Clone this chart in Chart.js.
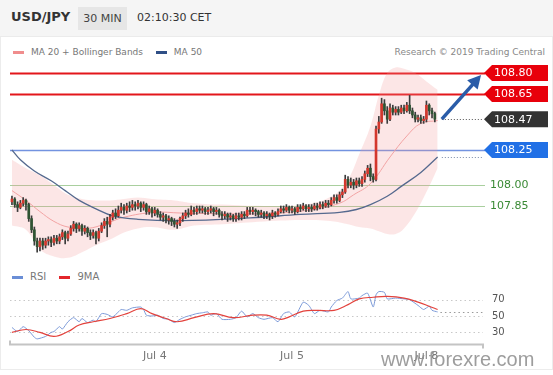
<!DOCTYPE html>
<html lang="en">
<head>
    <meta charset="UTF-8">
    <title>USD/JPY 30 MIN</title>
    <script src="https://cdn.jsdelivr.net/npm/chart.js"></script>
</head>
<style>
    body {
        margin: 0;
        width: 553px;
        height: 375px;
        position: relative;
        overflow: hidden;
        background: #fff;
        font-family: "DejaVu Sans", sans-serif;
    }
    .header {
        position: absolute; left: 0; top: 0;
        width: 553px; height: 36px;
        background: #f5f5f5;
        border-bottom: 1px solid #ebebeb;
    }
    .pair { position: absolute; left: 11px; top: 9px; font-size: 13px; font-weight: bold; color: #333; }
    .tf {
        position: absolute; left: 78px; top: 7px;
        width: 49px; height: 23px; line-height: 23px;
        background: #e6e6e6; color: #444;
        font-size: 11px; text-align: center;
    }
    .clock { position: absolute; left: 137px; top: 11px; font-size: 11px; color: #333; }
    .panel {
        position: absolute; left: 0; top: 37px;
        width: 551px; height: 332px;
        border: 1px solid #ececec; border-top: none;
    }
    .legend { position: absolute; font-size: 9px; color: #777; white-space: nowrap; }
    .sw { display: inline-block; width: 11px; height: 3px; vertical-align: middle; margin-right: 7px; }
    .credit { position: absolute; right: 8px; top: 47px; font-size: 9px; color: #888; }
    .watermark {
        position: absolute; left: 381px; top: 348px;
        font-family: "Liberation Sans", sans-serif;
        font-size: 20px; color: rgba(140, 140, 140, 0.85);
    }
    canvas { position: absolute; left: 0; }
</style>
<body>
    <div class="header">
        <span class="pair">USD/JPY</span>
        <span class="tf">30 MIN</span>
        <span class="clock">02:10:30 CET</span>
    </div>
    <div class="panel"></div>

    <div class="legend" style="left: 13px; top: 47px;">
        <span class="sw" style="background: #f08d8d;"></span>MA 20 + Bollinger Bands
        <span class="sw" style="background: #2f4f86; margin-left: 10px;"></span>MA 50
    </div>
    <div class="credit">Research © 2019 Trading Central</div>

    <canvas id="price" width="553" height="225" style="top: 40px;"></canvas>

    <div class="legend" style="left: 12px; top: 271px; font-size: 10px;">
        <span class="sw" style="background: #6a8ed6;"></span>RSI
        <span class="sw" style="background: #e3262b; margin-left: 10px;"></span>9MA
    </div>

    <canvas id="rsi" width="553" height="113" style="top: 262px;"></canvas>

    <div class="watermark">www.forexre.com</div>

    <script>
        // 30 min candles, index 0 = Jul 3 late evening, last = Jul 8 02:00
        const openP = [
            107.88, 107.90, 107.86, 107.84, 107.87, 107.89, 107.86, 107.76, 107.68, 107.60,
            107.56, 107.60, 107.57, 107.60, 107.61, 107.59, 107.62, 107.60, 107.63, 107.66,
            107.62, 107.65, 107.69, 107.72, 107.69, 107.71, 107.67, 107.69, 107.66, 107.64,
            107.66, 107.62, 107.67, 107.71, 107.74, 107.72, 107.77, 107.80, 107.78, 107.82,
            107.84, 107.82, 107.85, 107.84, 107.86, 107.85, 107.87, 107.84, 107.86, 107.81,
            107.83, 107.80, 107.82, 107.79, 107.77, 107.78, 107.75, 107.76, 107.74, 107.72,
            107.73, 107.76, 107.78, 107.80, 107.79, 107.82, 107.81, 107.83, 107.82, 107.83,
            107.81, 107.82, 107.83, 107.81, 107.82, 107.79, 107.78, 107.79, 107.77, 107.78,
            107.76, 107.78, 107.77, 107.79, 107.78, 107.82, 107.81, 107.82, 107.81, 107.79,
            107.80, 107.78, 107.79, 107.78, 107.80, 107.79, 107.81, 107.83, 107.82, 107.84,
            107.82, 107.83, 107.81, 107.84, 107.83, 107.85, 107.83, 107.84, 107.83, 107.85,
            107.84, 107.86, 107.85, 107.87, 107.86, 107.89, 107.91, 107.89, 107.93, 107.95,
            108.04, 108.00, 108.02, 108.00, 108.03, 108.01, 108.04, 108.08, 108.12, 108.06,
            108.04, 108.40, 108.45, 108.58, 108.53, 108.47, 108.55, 108.52, 108.54, 108.52,
            108.55, 108.53, 108.57, 108.53, 108.50, 108.47, 108.48, 108.46, 108.47, 108.57,
            108.53, 108.51
        ];
        const highP = [
            107.92, 107.91, 107.88, 107.89, 107.91, 107.90, 107.87, 107.78, 107.70, 107.62,
            107.62, 107.62, 107.62, 107.63, 107.63, 107.64, 107.64, 107.65, 107.68, 107.67,
            107.67, 107.71, 107.74, 107.73, 107.73, 107.72, 107.71, 107.70, 107.68, 107.68,
            107.67, 107.69, 107.73, 107.76, 107.77, 107.79, 107.82, 107.83, 107.85, 107.87,
            107.86, 107.87, 107.88, 107.89, 107.88, 107.89, 107.88, 107.88, 107.87, 107.85,
            107.84, 107.84, 107.83, 107.81, 107.80, 107.79, 107.78, 107.77, 107.76, 107.75,
            107.77, 107.80, 107.82, 107.83, 107.85, 107.84, 107.85, 107.85, 107.85, 107.84,
            107.84, 107.85, 107.84, 107.84, 107.83, 107.81, 107.81, 107.80, 107.80, 107.79,
            107.80, 107.80, 107.81, 107.81, 107.84, 107.84, 107.84, 107.83, 107.82, 107.82,
            107.81, 107.81, 107.80, 107.82, 107.81, 107.83, 107.85, 107.85, 107.86, 107.85,
            107.85, 107.84, 107.86, 107.86, 107.87, 107.86, 107.86, 107.86, 107.87, 107.87,
            107.88, 107.88, 107.89, 107.89, 107.91, 107.93, 107.93, 107.95, 107.97, 108.07,
            108.06, 108.05, 108.04, 108.05, 108.05, 108.06, 108.10, 108.14, 108.15, 108.08,
            108.42, 108.49, 108.62, 108.61, 108.56, 108.58, 108.57, 108.56, 108.56, 108.57,
            108.57, 108.59, 108.64, 108.55, 108.52, 108.50, 108.50, 108.49, 108.60, 108.58,
            108.55, 108.52
        ];
        const lowP = [
            107.86, 107.84, 107.81, 107.83, 107.85, 107.82, 107.74, 107.66, 107.57, 107.52,
            107.53, 107.54, 107.55, 107.57, 107.56, 107.57, 107.58, 107.58, 107.61, 107.58,
            107.60, 107.64, 107.67, 107.66, 107.67, 107.64, 107.65, 107.63, 107.61, 107.62,
            107.58, 107.60, 107.66, 107.69, 107.63, 107.70, 107.75, 107.76, 107.77, 107.80,
            107.79, 107.80, 107.81, 107.82, 107.82, 107.83, 107.81, 107.82, 107.79, 107.79,
            107.77, 107.78, 107.77, 107.75, 107.74, 107.73, 107.72, 107.71, 107.70, 107.69,
            107.71, 107.74, 107.76, 107.77, 107.78, 107.79, 107.79, 107.80, 107.80, 107.79,
            107.79, 107.80, 107.78, 107.79, 107.77, 107.75, 107.76, 107.74, 107.75, 107.74,
            107.74, 107.75, 107.75, 107.76, 107.77, 107.79, 107.79, 107.78, 107.77, 107.77,
            107.76, 107.76, 107.75, 107.76, 107.77, 107.78, 107.80, 107.80, 107.81, 107.80,
            107.80, 107.79, 107.80, 107.81, 107.82, 107.81, 107.81, 107.81, 107.82, 107.82,
            107.83, 107.83, 107.84, 107.84, 107.85, 107.87, 107.87, 107.88, 107.91, 107.94,
            107.98, 107.98, 107.97, 107.98, 107.99, 107.99, 108.02, 108.06, 108.03, 108.02,
            108.03, 108.37, 108.44, 108.50, 108.44, 108.46, 108.50, 108.50, 108.50, 108.51,
            108.51, 108.52, 108.51, 108.48, 108.45, 108.45, 108.44, 108.44, 108.45, 108.50,
            108.48, 108.45
        ];
        const closeP = [
            107.90, 107.86, 107.84, 107.87, 107.89, 107.86, 107.76, 107.68, 107.60, 107.56,
            107.60, 107.57, 107.60, 107.61, 107.59, 107.62, 107.60, 107.63, 107.66, 107.62,
            107.65, 107.69, 107.72, 107.69, 107.71, 107.67, 107.69, 107.66, 107.64, 107.66,
            107.62, 107.67, 107.71, 107.74, 107.72, 107.77, 107.80, 107.78, 107.82, 107.84,
            107.82, 107.85, 107.84, 107.86, 107.85, 107.87, 107.84, 107.86, 107.81, 107.83,
            107.80, 107.82, 107.79, 107.77, 107.78, 107.75, 107.76, 107.74, 107.72, 107.73,
            107.76, 107.78, 107.80, 107.79, 107.82, 107.81, 107.83, 107.82, 107.83, 107.81,
            107.82, 107.83, 107.81, 107.82, 107.79, 107.78, 107.79, 107.77, 107.78, 107.76,
            107.78, 107.77, 107.79, 107.78, 107.82, 107.81, 107.82, 107.81, 107.79, 107.80,
            107.78, 107.79, 107.78, 107.80, 107.79, 107.81, 107.83, 107.82, 107.84, 107.82,
            107.83, 107.81, 107.84, 107.83, 107.85, 107.83, 107.84, 107.83, 107.85, 107.84,
            107.86, 107.85, 107.87, 107.86, 107.89, 107.91, 107.89, 107.93, 107.95, 108.04,
            108.00, 108.02, 108.00, 108.03, 108.01, 108.04, 108.08, 108.12, 108.06, 108.04,
            108.40, 108.45, 108.58, 108.53, 108.47, 108.55, 108.52, 108.54, 108.52, 108.55,
            108.53, 108.57, 108.53, 108.50, 108.47, 108.48, 108.46, 108.47, 108.57, 108.53,
            108.51, 108.47
        ];

        // moving averages and bands (bar index, value)
        const ma20Idx = [0, 5, 10, 15, 20, 27, 33, 40, 51, 60, 74, 89, 106, 117, 122, 128, 135, 141, 146, 152];
        const ma20 = [107.96, 107.89, 107.81, 107.74, 107.70, 107.69, 107.72, 107.77, 107.805, 107.80, 107.795, 107.795, 107.82, 107.87, 107.93, 108.01, 108.20, 108.35, 108.44, 108.46];
        const ma50Idx = [0, 3, 8, 14, 19, 24, 30, 36, 45, 60, 85, 103, 117, 123, 128, 134, 139, 146, 152];
        const ma50 = [108.25, 108.18, 108.10, 108.03, 107.96, 107.89, 107.83, 107.78, 107.755, 107.745, 107.765, 107.79, 107.805, 107.825, 107.86, 107.92, 107.99, 108.09, 108.20];
        const bandIdx = [0, 5, 10, 15, 20, 25, 30, 35, 40, 45, 50, 58, 65, 75, 90, 105, 115, 120, 124, 128, 131, 134, 137, 140, 144, 148, 152];
        const bandUpper = [108.18, 108.12, 108.07, 108.00, 107.93, 107.90, 107.89, 107.89, 107.90, 107.91, 107.90, 107.89, 107.87, 107.86, 107.85, 107.86, 107.93, 108.04, 108.22, 108.42, 108.64, 108.80, 108.84, 108.83, 108.80, 108.74, 108.68];
        const bandLower = [107.71, 107.68, 107.54, 107.49, 107.48, 107.52, 107.57, 107.61, 107.66, 107.69, 107.70, 107.68, 107.71, 107.72, 107.74, 107.75, 107.74, 107.72, 107.70, 107.69, 107.67, 107.65, 107.65, 107.69, 107.80, 107.95, 108.12];

        // support / resistance levels
        const levels = [108.80, 108.65, 108.25, 108.00, 107.85];
        const lastClose = 108.47;
        const lastMa50 = 108.20;
        const arrowFrom = [153.5, 108.47];
        const arrowTo = [167.5, 108.785];

        // RSI panel
        const rsiIdx = [0, 2, 4, 6, 8, 9, 12, 14, 15, 17, 18, 20, 22, 24, 25, 27, 29, 30, 32, 34, 36, 38, 39, 41, 43, 46, 47, 48, 50, 52, 54, 56, 58, 60, 62, 64, 66, 68, 70, 71, 73, 75, 78, 80, 82, 84, 86, 88, 90, 93, 95, 97, 99, 101, 104, 106, 108, 110, 113, 114, 116, 118, 120, 121, 124, 125, 127, 129, 130, 131, 133, 134, 137, 140, 142, 145, 147, 149, 150, 152];
        const rsi = [36, 31, 37, 32, 24, 22, 25, 30, 31, 37, 34, 43, 48, 43, 47, 42, 45, 43, 53, 52, 49, 55, 58, 57, 60, 61, 58, 51, 50, 51, 47, 46, 42, 46, 49, 51, 53, 54, 55, 51, 53, 46, 46, 48, 56, 49, 53, 48, 46, 48, 43, 53, 55, 49, 67, 63, 53, 57, 55, 61, 69, 72, 80, 71, 72, 75, 78, 61, 76, 80, 79, 71, 72, 71, 70, 63, 58, 62, 57, 55];
        const rsiMaIdx = [0, 5, 10, 15, 20, 24, 29, 35, 41, 46, 50, 55, 59, 65, 72, 79, 86, 91, 96, 99, 104, 109, 115, 120, 124, 129, 134, 140, 145, 149, 152];
        const rsiMa = [30, 33.5, 30, 25, 31, 39, 43, 47, 53, 59, 53, 47, 43, 48, 53, 48, 51, 51, 46, 49, 56, 57, 57, 64, 71, 73, 74, 72, 67, 62, 58];
        const rsiLevels = [70, 50, 30];
        const lastRsi = 55.5;

        const tickIdx = [51, 100, 148];
        const tickLabels = ['Jul 4', 'Jul 5', 'Jul 8'];

        const UP = '#d3372d';
        const DOWN = '#2f5433';
        const WICK = '#3c3c3c';
        const xMin = -0.7, xMax = 168.2;

        const pts = (idx, vals) => idx.map((v, i) => ({ x: v, y: vals[i] }));
        const candleColors = closeP.map((c, i) => c >= openP[i] ? UP : DOWN);

        function drawTag(ctx, left, right, py, color, text) {
            ctx.fillStyle = color;
            ctx.beginPath();
            ctx.moveTo(left, py);
            ctx.lineTo(left + 8, py - 8);
            ctx.lineTo(right, py - 8);
            ctx.lineTo(right, py + 8);
            ctx.lineTo(left + 8, py + 8);
            ctx.closePath();
            ctx.fill();
            ctx.fillStyle = '#fff';
            ctx.font = '11px "DejaVu Sans"';
            ctx.textAlign = 'left';
            ctx.textBaseline = 'middle';
            ctx.fillText(text, left + 10, py + 0.5);
        }

        const levelPlugin = {
            id: 'levels',
            beforeDatasetsDraw(chart) {
                const { ctx, chartArea, scales: { y } } = chart;
                const styles = [
                    { color: '#e3161b', width: 2 },
                    { color: '#e3161b', width: 2 },
                    { color: '#7393e0', width: 1.3 },
                    { color: '#a9cf9e', width: 1 },
                    { color: '#a9cf9e', width: 1 },
                ];
                ctx.save();
                levels.forEach((v, i) => {
                    const py = Math.round(y.getPixelForValue(v)) + 0.5;
                    ctx.strokeStyle = styles[i].color;
                    ctx.lineWidth = styles[i].width;
                    ctx.beginPath();
                    ctx.moveTo(chartArea.left, py);
                    ctx.lineTo(chartArea.right + 2, py);
                    ctx.stroke();
                });
                ctx.restore();
            },
            afterDraw(chart) {
                const { ctx, chartArea, scales: { x, y } } = chart;
                const left = chartArea.right + 1;
                const right = chart.width - 5;
                ctx.save();

                // dotted markers for last close and last MA 50
                ctx.setLineDash([1, 2]);
                ctx.lineWidth = 1;
                [[lastClose, '#555'], [lastMa50, '#7a8aa8']].forEach(([v, c]) => {
                    const py = Math.round(y.getPixelForValue(v)) + 0.5;
                    ctx.strokeStyle = c;
                    ctx.beginPath();
                    ctx.moveTo(x.getPixelForValue(arrowFrom[0]), py);
                    ctx.lineTo(chartArea.right, py);
                    ctx.stroke();
                });
                ctx.setLineDash([]);

                // right side tags
                drawTag(ctx, left, right, y.getPixelForValue(levels[0]), '#e8000b', levels[0].toFixed(2));
                drawTag(ctx, left, right, y.getPixelForValue(levels[1]), '#e8000b', levels[1].toFixed(2));
                drawTag(ctx, left, right, y.getPixelForValue(lastClose), '#333333', lastClose.toFixed(2));
                drawTag(ctx, left, right, y.getPixelForValue(levels[2]), '#2170e6', levels[2].toFixed(2));
                ctx.fillStyle = '#3a8a35';
                ctx.font = '11px "DejaVu Sans"';
                ctx.textBaseline = 'middle';
                [levels[3], levels[4]].forEach(v => {
                    ctx.fillText(v.toFixed(2), left + 6, y.getPixelForValue(v) + 0.5);
                });

                // target arrow
                const x0 = x.getPixelForValue(arrowFrom[0]), y0 = y.getPixelForValue(arrowFrom[1]);
                const x1 = x.getPixelForValue(arrowTo[0]), y1 = y.getPixelForValue(arrowTo[1]);
                const ang = Math.atan2(y1 - y0, x1 - x0);
                ctx.strokeStyle = '#2a5ca8';
                ctx.fillStyle = '#2a5ca8';
                ctx.lineWidth = 3.5;
                ctx.beginPath();
                ctx.moveTo(x0, y0);
                ctx.lineTo(x1 - 9 * Math.cos(ang), y1 - 9 * Math.sin(ang));
                ctx.stroke();
                ctx.beginPath();
                ctx.moveTo(x1, y1);
                ctx.lineTo(x1 - 13 * Math.cos(ang) + 7 * Math.sin(ang), y1 - 13 * Math.sin(ang) - 7 * Math.cos(ang));
                ctx.lineTo(x1 - 13 * Math.cos(ang) - 7 * Math.sin(ang), y1 - 13 * Math.sin(ang) + 7 * Math.cos(ang));
                ctx.closePath();
                ctx.fill();
                ctx.restore();
            }
        };

        new Chart(document.getElementById('price'), {
            type: 'bar',
            data: {
                datasets: [
                    {
                        label: 'body',
                        data: openP.map((o, i) => ({ x: i, y: [o, closeP[i]] })),
                        backgroundColor: candleColors,
                        barThickness: 2,
                        minBarLength: 1,
                        grouped: false,
                        order: 0,
                    },
                    {
                        label: 'wick',
                        data: lowP.map((l, i) => ({ x: i, y: [l, highP[i]] })),
                        backgroundColor: WICK,
                        barThickness: 1,
                        grouped: false,
                        order: 1,
                    },
                    {
                        type: 'line',
                        label: 'MA 50',
                        data: pts(ma50Idx, ma50),
                        borderColor: '#55698e',
                        borderWidth: 1.3,
                        pointRadius: 0,
                        tension: 0.4,
                        order: 2,
                    },
                    {
                        type: 'line',
                        label: 'MA 20',
                        data: pts(ma20Idx, ma20),
                        borderColor: '#f2a3a3',
                        borderWidth: 1,
                        pointRadius: 0,
                        tension: 0.4,
                        order: 3,
                    },
                    {
                        type: 'line',
                        label: 'upper',
                        data: pts(bandIdx, bandUpper),
                        borderWidth: 0,
                        pointRadius: 0,
                        tension: 0.4,
                        fill: false,
                        order: 5,
                    },
                    {
                        type: 'line',
                        label: 'lower',
                        data: pts(bandIdx, bandLower),
                        borderWidth: 0,
                        pointRadius: 0,
                        tension: 0.4,
                        fill: '-1',
                        backgroundColor: 'rgba(244, 150, 150, 0.24)',
                        order: 4,
                    },
                ],
            },
            options: {
                responsive: false,
                animation: false,
                layout: { padding: { left: 10, right: 70, top: 25, bottom: 5 } },
                plugins: { legend: { display: false }, tooltip: { enabled: false } },
                scales: {
                    x: { type: 'linear', min: xMin, max: xMax, offset: false, display: false },
                    y: { min: 107.4643, max: 108.8571, display: false },
                },
            },
            plugins: [levelPlugin],
        });

        const rsiPlugin = {
            id: 'rsiLevels',
            beforeDatasetsDraw(chart) {
                const { ctx, chartArea, scales: { x, y } } = chart;
                ctx.save();
                ctx.setLineDash([1.5, 3]);
                ctx.lineWidth = 1;
                ctx.strokeStyle = '#c8c8c8';
                rsiLevels.forEach(v => {
                    const py = Math.round(y.getPixelForValue(v)) + 0.5;
                    ctx.beginPath();
                    ctx.moveTo(chartArea.left, py);
                    ctx.lineTo(chartArea.right, py);
                    ctx.stroke();
                });
                ctx.strokeStyle = '#999';
                const py = Math.round(y.getPixelForValue(lastRsi)) + 0.5;
                ctx.beginPath();
                ctx.moveTo(x.getPixelForValue(153), py);
                ctx.lineTo(chartArea.right, py);
                ctx.stroke();
                ctx.setLineDash([]);

                // time axis line with end ticks
                const by = Math.round(chartArea.bottom) + 0.5;
                ctx.strokeStyle = '#c4c4c4';
                ctx.lineWidth = 2;
                ctx.beginPath();
                ctx.moveTo(chartArea.left, by - 4);
                ctx.lineTo(chartArea.left, by);
                ctx.lineTo(chartArea.right, by);
                ctx.lineTo(chartArea.right, by + 4);
                ctx.stroke();

                ctx.fillStyle = '#555';
                ctx.font = '10px "DejaVu Sans"';
                ctx.textAlign = 'left';
                ctx.textBaseline = 'middle';
                rsiLevels.forEach(v => ctx.fillText(String(v), chartArea.right + 9, y.getPixelForValue(v)));
                ctx.restore();
            }
        };

        new Chart(document.getElementById('rsi'), {
            type: 'line',
            data: {
                datasets: [
                    {
                        label: '9MA',
                        data: pts(rsiMaIdx, rsiMa),
                        borderColor: '#e3423c',
                        borderWidth: 1.2,
                        pointRadius: 0,
                        tension: 0.4,
                    },
                    {
                        label: 'RSI',
                        data: pts(rsiIdx, rsi),
                        borderColor: '#7c9ad8',
                        borderWidth: 1,
                        pointRadius: 0,
                        tension: 0.2,
                    },
                ],
            },
            options: {
                responsive: false,
                animation: false,
                layout: { padding: { left: 10, right: 70, top: 23, bottom: 6 } },
                plugins: { legend: { display: false }, tooltip: { enabled: false } },
                scales: {
                    x: {
                        type: 'linear', min: xMin, max: xMax,
                        afterBuildTicks: (scale) => { scale.ticks = tickIdx.map(v => ({ value: v })); },
                        ticks: {
                            callback: (v) => tickLabels[tickIdx.indexOf(v)],
                            color: '#777',
                            font: { family: 'DejaVu Sans', size: 11 },
                            padding: 6,
                            maxRotation: 0,
                        },
                        grid: { display: false, drawTicks: false },
                        border: { display: false },
                    },
                    y: { min: 16, max: 88, display: false },
                },
            },
            plugins: [rsiPlugin],
        });
    </script>
</body>
</html>
